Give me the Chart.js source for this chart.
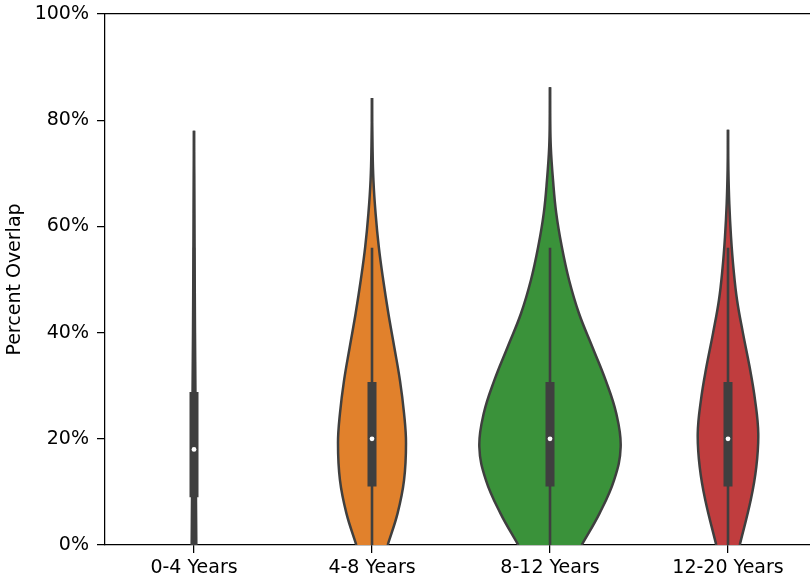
<!DOCTYPE html>
<html>
<head>
<meta charset="utf-8">
<script src="https://cdn.jsdelivr.net/npm/chart.js@4.4.1/dist/chart.umd.min.js"></script>
<style>
    html, body { margin: 0; padding: 0; background: #fff; overflow: hidden; }
    #wrap { width: 830px; height: 578px; }
</style>
</head>
<body>
<div id="wrap"><canvas id="violinChart" width="830" height="578"></canvas></div>
<script>
// Категории и цвета
const categories = ['0-4 Years', '4-8 Years', '8-12 Years', '12-20 Years'];
const violinColors = ['#3274a1', '#e1812c', '#3a923a', '#c03d3e'];
const yTicks = [0, 20, 40, 60, 80, 100];

// Форма скрипок: уровни (%) и полуширина (доля шага категории)
const levels04 = [0, 9, 19, 29, 40, 55, 70, 78];
const widths04 = [0.013, 0.011, 0.009, 0.008, 0.0056, 0.0034, 0.0017, 0];
const levels48 = [0, 6, 12.2, 19.2, 24.8, 31, 37.3, 43.6, 49.9, 56.2, 62.5, 68.7, 75, 84.2];
const widths48 = [0.088, 0.144, 0.180, 0.191, 0.180, 0.157, 0.125, 0.092, 0.063, 0.038, 0.020, 0.008, 0.003, 0];
const levels812 = [0, 6, 12.2, 18.5, 24.8, 31, 37.3, 43.6, 49.9, 56.2, 62.5, 68.7, 75, 81.3, 86.2];
const widths812 = [0.178, 0.279, 0.360, 0.397, 0.372, 0.313, 0.238, 0.163, 0.107, 0.066, 0.035, 0.017, 0.0045, 0.001, 0];
const levels1220 = [0, 8.5, 14.7, 21, 27.3, 33.6, 39.9, 46.1, 52, 58, 64.3, 70.6, 78.2];
const widths1220 = [0.066, 0.128, 0.159, 0.170, 0.152, 0.121, 0.084, 0.051, 0.031, 0.017, 0.0073, 0.0022, 0];

// Ящики внутри скрипок
const q1Values = [9, 11, 11, 11];
const medianValues = [18, 20, 20, 20];
const q3Values = [28.8, 30.7, 30.7, 30.7];
const whiskerLow = [0, 0, 0, 0];
const whiskerHigh = [56, 56, 56, 56];

const allLevels = [levels04, levels48, levels812, levels1220];
const allWidths = [widths04, widths48, widths812, widths1220];

const edgeColor = '#3f3f3f';
const fontSpec = { family: 'DejaVu Sans', size: 19 };

function buildDatasets() {
    const datasets = [];
    categories.forEach((cat, i) => {
        const lv = allLevels[i];
        const w = allWidths[i];
        // левая граница
        datasets.push({
            data: lv.map((y, k) => ({ x: i - w[k], y: y })),
            borderColor: edgeColor,
            borderWidth: 2.5,
            pointRadius: 0,
            tension: 0.4,
            fill: false,
            order: 4
        });
        // правая граница, заливка до левой
        datasets.push({
            data: lv.map((y, k) => ({ x: i + w[k], y: y })),
            borderColor: edgeColor,
            backgroundColor: violinColors[i],
            borderWidth: 2.5,
            pointRadius: 0,
            tension: 0.4,
            fill: '-1',
            order: 4
        });
    });
    categories.forEach((cat, i) => {
        datasets.push({
            data: [{ x: i, y: whiskerLow[i] }, { x: i, y: whiskerHigh[i] }],
            borderColor: edgeColor,
            borderWidth: 2.6,
            pointRadius: 0,
            fill: false,
            order: 3
        });
        datasets.push({
            data: [{ x: i, y: q1Values[i] }, { x: i, y: q3Values[i] }],
            borderColor: edgeColor,
            borderWidth: 9,
            borderCapStyle: 'butt',
            pointRadius: 0,
            fill: false,
            order: 2
        });
        datasets.push({
            data: [{ x: i, y: medianValues[i] }],
            showLine: false,
            pointRadius: 2.4,
            pointBackgroundColor: '#ffffff',
            pointBorderWidth: 0,
            fill: false,
            order: 1
        });
    });
    return datasets;
}

document.addEventListener('DOMContentLoaded', function() {
    const ctx = document.getElementById('violinChart');
    new Chart(ctx, {
        type: 'line',
        data: { datasets: buildDatasets() },
        options: {
            indexAxis: 'y',
            responsive: false,
            animation: false,
            layout: { padding: { left: 0, right: 13, top: 0, bottom: 0 } },
            plugins: {
                legend: { display: false },
                tooltip: { enabled: false }
            },
            scales: {
                x: {
                    type: 'linear',
                    position: 'bottom',
                    min: -0.5,
                    max: 3.5,
                    z: 1,
                    afterBuildTicks: scale => { scale.ticks = categories.map((c, i) => ({ value: i })); },
                    afterFit: scale => { scale.height = 33; },
                    ticks: {
                        callback: v => categories[v],
                        color: '#000',
                        font: fontSpec,
                        padding: 4,
                        maxRotation: 0,
                        autoSkip: false
                    },
                    grid: { drawOnChartArea: false, tickLength: 8, color: '#000', lineWidth: 1.25 },
                    border: { display: true, color: '#000', width: 1.25 }
                },
                xTop: {
                    type: 'linear',
                    position: 'top',
                    min: -0.5,
                    max: 3.5,
                    afterFit: scale => { scale.height = 14; },
                    ticks: { display: false },
                    grid: { display: false },
                    border: { display: true, color: '#000', width: 1.25 }
                },
                y: {
                    type: 'linear',
                    min: 0,
                    max: 100,
                    afterBuildTicks: scale => { scale.ticks = yTicks.map(v => ({ value: v })); },
                    afterFit: scale => {
                        scale.width = 105;
                        scale.paddingTop = 0;
                        scale.paddingBottom = 0;
                    },
                    ticks: {
                        callback: v => v + '%',
                        color: '#000',
                        font: fontSpec,
                        padding: 8
                    },
                    grid: { drawOnChartArea: false, tickLength: 8, color: '#000', lineWidth: 1.25 },
                    border: { display: true, color: '#000', width: 1.25 },
                    title: {
                        display: true,
                        text: 'Percent Overlap',
                        color: '#000',
                        font: fontSpec,
                        padding: { top: 4, bottom: 4 }
                    }
                }
            }
        }
    });
});
</script>
</body>
</html>
